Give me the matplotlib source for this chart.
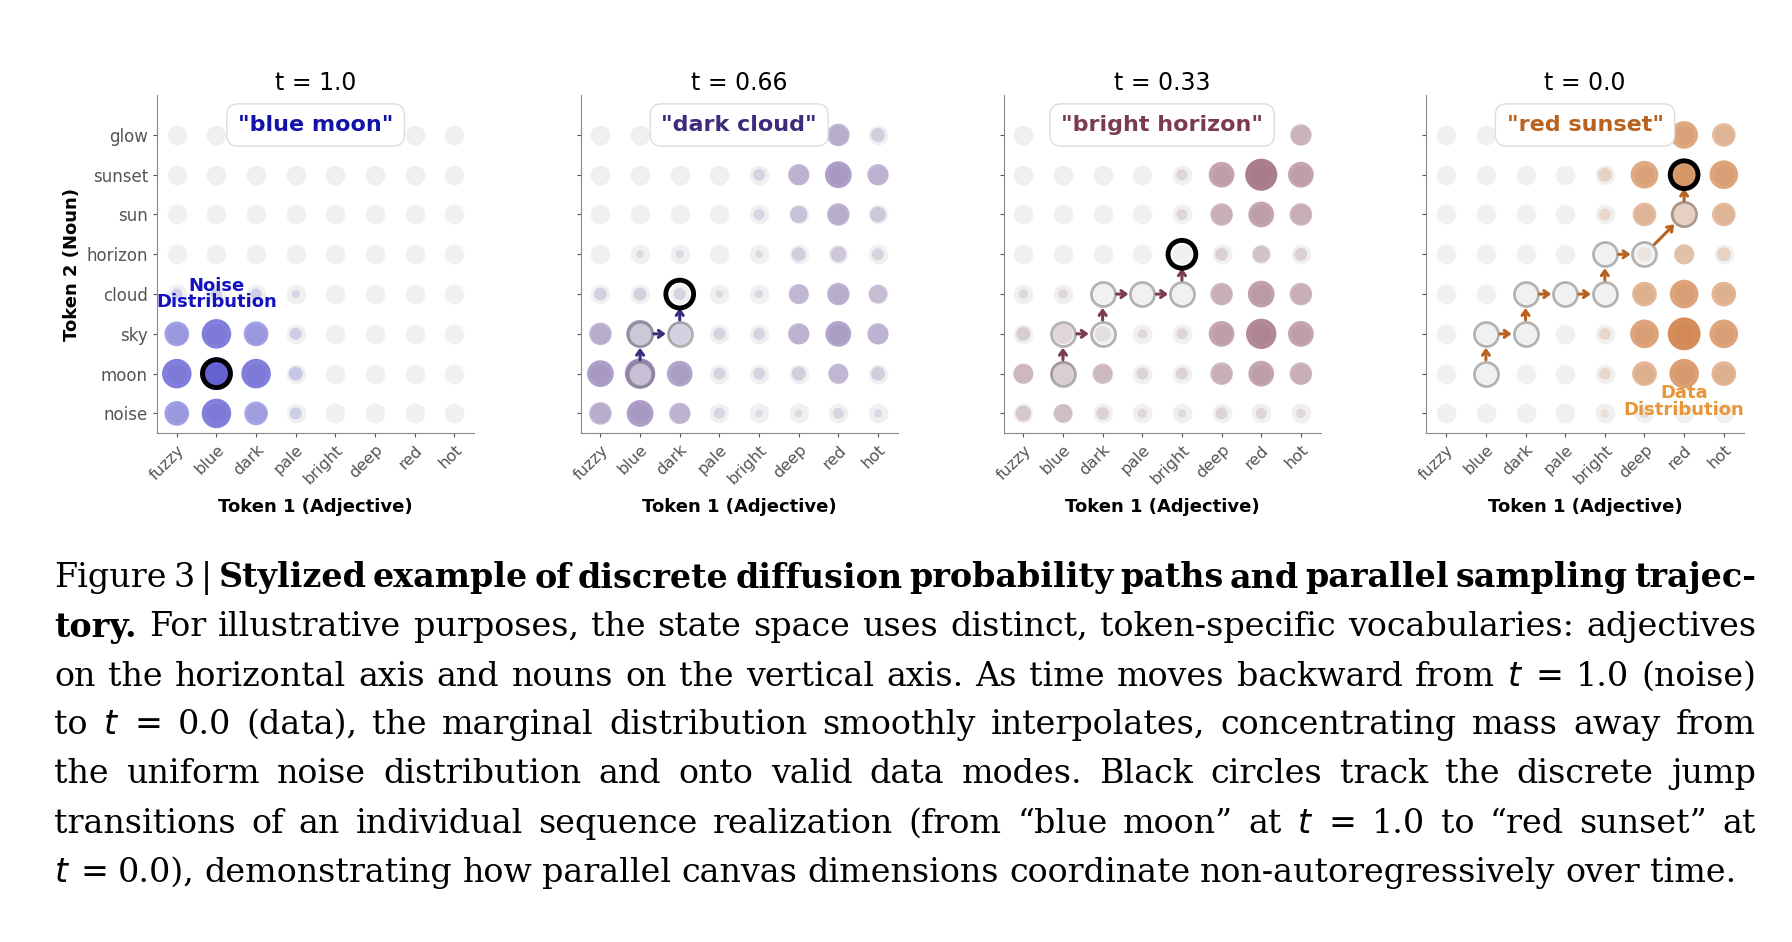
import matplotlib.pyplot as plt
import numpy as np

adjectives = ["fuzzy", "blue", "dark", "pale", "bright", "deep", "red", "hot"]
nouns = ["noise", "moon", "sky", "cloud", "horizon", "sun", "sunset", "glow"]
times = ["t = 1.0", "t = 0.66", "t = 0.33", "t = 0.0"]
states = ['"blue moon"', '"dark cloud"', '"bright horizon"', '"red sunset"']
colors = ["#3b36c9", "#6a4f9c", "#8e5068", "#c96a26"]
label_colors = ["#1212a8", "#3f2b7c", "#7a3b4d", "#b9621f"]

# rows = nouns (noise..glow), cols = adjectives (fuzzy..hot)
probs_t100 = [
    [0.55, 0.8, 0.5, 0.1, 0, 0, 0, 0],
    [0.8, 1.0, 0.8, 0.15, 0, 0, 0, 0],
    [0.55, 0.8, 0.55, 0.1, 0, 0, 0, 0],
    [0.08, 0.08, 0.08, 0.03, 0, 0, 0, 0],
    [0, 0, 0, 0, 0, 0, 0, 0],
    [0, 0, 0, 0, 0, 0, 0, 0],
    [0, 0, 0, 0, 0, 0, 0, 0],
    [0, 0, 0, 0, 0, 0, 0, 0],
]
probs_t066 = [
    [0.45, 0.65, 0.4, 0.08, 0.02, 0.02, 0.08, 0.03],
    [0.65, 0.85, 0.6, 0.1, 0.1, 0.15, 0.35, 0.15],
    [0.45, 0.7, 0.5, 0.1, 0.1, 0.4, 0.6, 0.4],
    [0.12, 0.12, 0.1, 0.02, 0.03, 0.35, 0.45, 0.3],
    [0, 0.02, 0.03, 0, 0.02, 0.15, 0.2, 0.1],
    [0, 0, 0, 0, 0.08, 0.25, 0.45, 0.2],
    [0, 0, 0, 0, 0.1, 0.4, 0.65, 0.4],
    [0, 0, 0, 0, 0, 0.3, 0.45, 0.15],
]
probs_t033 = [
    [0.2, 0.3, 0.12, 0.05, 0.03, 0.1, 0.08, 0.05],
    [0.35, 0.55, 0.35, 0.1, 0.1, 0.45, 0.6, 0.45],
    [0.15, 0.35, 0.2, 0.05, 0.08, 0.6, 0.85, 0.6],
    [0.05, 0.05, 0, 0, 0, 0.45, 0.65, 0.45],
    [0, 0, 0, 0, 0, 0.12, 0.25, 0.12],
    [0, 0, 0, 0, 0.08, 0.45, 0.6, 0.45],
    [0, 0, 0, 0, 0.08, 0.6, 0.95, 0.6],
    [0, 0, 0, 0, 0, 0, 0, 0.4],
]
probs_t000 = [
    [0, 0, 0, 0, 0.03, 0.05, 0, 0],
    [0, 0, 0, 0, 0.1, 0.55, 0.8, 0.55],
    [0, 0, 0, 0, 0.1, 0.75, 1.0, 0.75],
    [0, 0, 0, 0, 0, 0.55, 0.75, 0.55],
    [0, 0, 0, 0, 0, 0.15, 0.35, 0.15],
    [0, 0, 0, 0, 0.1, 0.5, 0.65, 0.5],
    [0, 0, 0, 0, 0.15, 0.7, 0.85, 0.75],
    [0, 0, 0, 0, 0, 0.5, 0.7, 0.5],
]
all_probs = [probs_t100, probs_t066, probs_t033, probs_t000]

# sampling trajectory (adjective index, noun index)
path_x = [1, 1, 2, 2, 3, 4, 4, 5, 6, 6]
path_y = [1, 2, 2, 3, 3, 3, 4, 4, 5, 6]
path_end = [0, 3, 6, 9]  # index of current state in each panel

caption = [
    [("Figure 3 | ", "normal"), ("Stylized example of discrete diffusion probability paths and parallel sampling trajec-", "bold")],
    [("tory.", "bold"), ("For illustrative purposes, the state space uses distinct, token-specific vocabularies: adjectives", "normal")],
    [("on the horizontal axis and nouns on the vertical axis. As time moves backward from $t$ = 1.0 (noise)", "normal")],
    [("to $t$ = 0.0 (data), the marginal distribution smoothly interpolates, concentrating mass away from", "normal")],
    [("the uniform noise distribution and onto valid data modes.  Black circles track the discrete jump", "normal")],
    [("transitions of an individual sequence realization (from \u201cblue moon\u201d at $t$ = 1.0 to \u201cred sunset\u201d at", "normal")],
    [("$t$ = 0.0), demonstrating how parallel canvas dimensions coordinate non-autoregressively over time.", "normal")],
]

fig = plt.figure(figsize=(17.92, 9.42), dpi=100)
lefts = [0.0876, 0.324, 0.560, 0.796]
gx, gy = np.meshgrid(np.arange(8), np.arange(8))

for k in range(4):
    ax = fig.add_axes([lefts[k], 0.540, 0.177, 0.359])
    p = np.array(all_probs[k])
    ax.scatter(gx.ravel(), gy.ravel(), s=200, color="#e4e4e4", alpha=0.55, linewidths=0, zorder=1)
    m = p.ravel() > 0
    ax.scatter(gx.ravel()[m], gy.ravel()[m], s=20 + 540 * p.ravel()[m],
               color=colors[k], alpha=(0.12 + 0.65 * p.ravel()[m]), linewidths=0, zorder=2)
    end = path_end[k]
    if end > 0:
        ax.scatter(path_x[:end], path_y[:end], s=300, facecolor="#f2f2f2", alpha=0.55,
                   edgecolor="#777777", linewidths=2, zorder=3)
        for i in range(end):
            ax.annotate("", xy=(path_x[i + 1], path_y[i + 1]), xytext=(path_x[i], path_y[i]),
                        arrowprops=dict(arrowstyle="->,head_length=0.35,head_width=0.25",
                                        color=label_colors[k], lw=2.2, shrinkA=10, shrinkB=10),
                        zorder=4)
    ax.scatter([path_x[end]], [path_y[end]], s=400, facecolor="none",
               edgecolor="black", linewidths=3.5, zorder=5)
    ax.set_xlim(-0.5, 7.5)
    ax.set_ylim(-0.5, 8.0)
    ax.set_xticks(range(8))
    ax.set_xticklabels(adjectives, rotation=45, ha="right", rotation_mode="anchor",
                       fontsize=11.5, color="#555555")
    ax.set_yticks(range(8))
    if k == 0:
        ax.set_yticklabels(nouns, fontsize=12, color="#555555")
        ax.set_ylabel("Token 2 (Noun)", fontsize=13, fontweight="bold")
    else:
        ax.set_yticklabels([])
    ax.set_xlabel("Token 1 (Adjective)", fontsize=13, fontweight="bold", labelpad=8)
    ax.set_title(times[k], fontsize=17, pad=4)
    for s in ["top", "right"]:
        ax.spines[s].set_visible(False)
    for s in ["left", "bottom"]:
        ax.spines[s].set_color("#888888")
    ax.tick_params(colors="#555555", length=3)
    ax.text(3.5, 7.25, states[k], ha="center", va="center", fontsize=16, fontweight="bold",
            color=label_colors[k], zorder=6,
            bbox=dict(boxstyle="round,pad=0.5", facecolor="white", edgecolor="#dddddd"))
    if k == 0:
        ax.text(1.0, 3.0, "Noise\nDistribution", ha="center", va="center", fontsize=13,
                fontweight="bold", color="#1212c0", linespacing=0.9, zorder=6)
    if k == 3:
        ax.text(6.0, 0.3, "Data\nDistribution", ha="center", va="center", fontsize=13,
                fontweight="bold", color="#e8963a", linespacing=0.9, zorder=6)

# caption, fully justified except the last line
fig.canvas.draw()
renderer = fig.canvas.get_renderer()
line_y = [578, 627, 677, 725, 774, 824, 873]
x0, x1 = 54, 1756
for n, (line, y) in enumerate(zip(caption, line_y)):
    words = []
    for txt, weight in line:
        for w in txt.split():
            words.append((w, weight))
    texts = []
    total = 0
    for w, weight in words:
        t = fig.text(0, 1 - y / 942, w, fontsize=24, fontweight=weight,
                     family="DejaVu Serif", va="center", ha="left")
        wd = t.get_window_extent(renderer=renderer).width
        texts.append((t, wd))
        total += wd
    if n < len(caption) - 1:
        gap = (x1 - x0 - total) / (len(words) - 1)
    else:
        gap = 10
    x = x0
    for t, wd in texts:
        t.set_x(x / 1792)
        x += wd + gap

fig.savefig("out.png", dpi=100)
